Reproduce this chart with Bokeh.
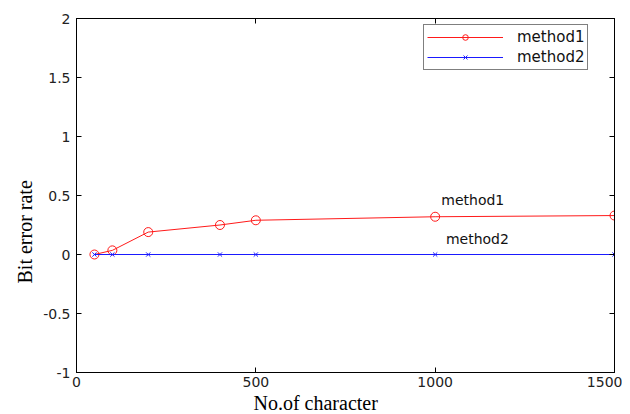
from bokeh.plotting import figure
from bokeh.models import FixedTicker, LinearAxis, Range1d, Legend, LegendItem, Title
from bokeh.core.properties import value
from bokeh.embed import file_html
from bokeh.resources import INLINE

chars = [50, 100, 200, 400, 500, 1000, 1500]
method1 = [0.0, 0.035, 0.19, 0.25, 0.29, 0.32, 0.33]
method2 = [0.0, 0.0, 0.0, 0.0, 0.0, 0.0, 0.0]
x_ticks = [0, 500, 1000, 1500]
x_tick_labels = ["0", "500", "1000", "1500"]
y_ticks = [-1, -0.5, 0, 0.5, 1, 1.5, 2]
y_tick_labels = ["-1", "-0.5", "0", "0.5", "1", "1.5", "2"]
annot_x = [1017, 1030]
annot_y = [0.46, 0.13]
annot_text = ["method1", "method2"]

p = figure(width=622, height=414, output_backend="svg", toolbar_location=None,
           x_range=Range1d(0, 1500), y_range=Range1d(-1, 2),
           min_border_left=76, min_border_right=8, min_border_top=18, min_border_bottom=42)
p.xgrid.visible = False
p.ygrid.visible = False
p.outline_line_color = "black"
p.outline_line_width = 1
p.background_fill_color = "white"
p.border_fill_color = "white"

def style(ax, ticks, labels, show_labels=True):
    ax.ticker = FixedTicker(ticks=ticks)
    ax.major_label_overrides = {t: l for t, l in zip(ticks, labels)}
    ax.major_tick_in = 5
    ax.major_tick_out = 0
    ax.minor_tick_line_color = None
    ax.axis_line_color = "black"
    ax.major_tick_line_color = "black"
    ax.major_label_text_font = "DejaVu Sans"
    ax.major_label_text_font_size = "14px"
    ax.major_label_text_color = "#222222"
    if not show_labels:
        ax.major_label_text_color = None

style(p.xaxis[0], x_ticks, x_tick_labels)
style(p.yaxis[0], y_ticks, y_tick_labels)
p.xaxis[0].major_label_standoff = 4
p.yaxis[0].major_label_standoff = 6

top = LinearAxis()
style(top, x_ticks, x_tick_labels, show_labels=False)
top.major_label_standoff = 0
top.major_label_text_font_size = "1px"
p.add_layout(top, "above")
right = LinearAxis()
style(right, y_ticks, y_tick_labels, show_labels=False)
right.major_label_standoff = 0
right.major_label_text_font_size = "1px"
p.add_layout(right, "right")

xlab = Title(text="No.of character", align="left", offset=177,
             text_font="Liberation Serif", text_font_style="normal",
             text_font_size="20px", text_color="black", standoff=0)
p.add_layout(xlab, "below")
ylab = Title(text="Bit error rate", align="left", offset=89,
             text_font="Liberation Serif", text_font_style="normal",
             text_font_size="20px", text_color="black", standoff=10)
p.add_layout(ylab, "left")

l1 = p.line(chars, method1, line_color="#ff1a1a", line_width=1)
m1 = p.scatter(chars, method1, marker="circle", size=9, fill_color=None,
               line_color="#ff1a1a", line_width=1)
l2 = p.line(chars, method2, line_color="#1a1aff", line_width=1)
m2 = p.scatter(chars, method2, marker="x", size=6, line_color="#1a1aff", line_width=1)

p.text(x=annot_x, y=annot_y, text=annot_text, text_font=value("DejaVu Sans"),
       text_font_size="14px", text_color="#111111", text_baseline="middle")

legend = Legend(items=[LegendItem(label="method1", renderers=[l1, m1]),
                       LegendItem(label="method2", renderers=[l2, m2])],
                location=(347, 302))
legend.glyph_width = 76
legend.glyph_height = 14
legend.label_text_font = "DejaVu Sans"
legend.label_text_font_size = "15px"
legend.label_text_color = "#111111"
legend.label_standoff = 14
legend.label_height = 14
legend.border_line_color = "black"
legend.border_line_width = 1
legend.padding = 3
legend.spacing = 2
legend.margin = 0
legend.background_fill_alpha = 1
p.add_layout(legend)

open("out.html", "w").write(file_html(p, INLINE))
